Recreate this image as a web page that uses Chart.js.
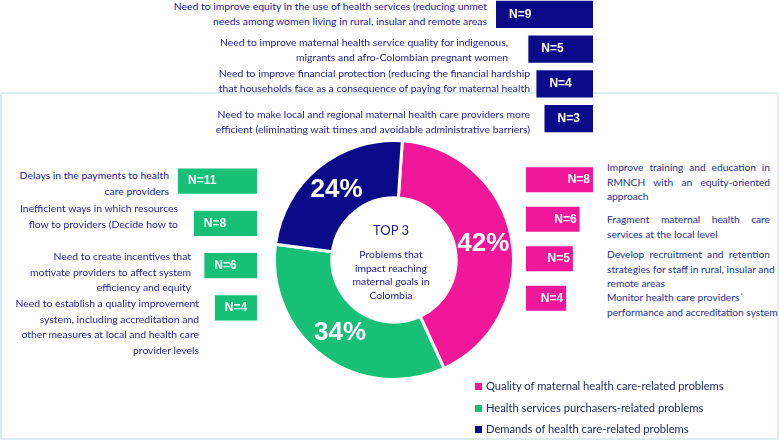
<!DOCTYPE html>
<html lang="en">
<head>
<meta charset="utf-8">
<title>Top 3 problems that impact reaching maternal goals in Colombia</title>
<script src="https://cdn.jsdelivr.net/npm/chart.js@4.4.1/dist/chart.umd.min.js"></script>
<style>
  html, body { margin: 0; padding: 0; }
  body {
    position: relative;
    width: 779px;
    height: 441px;
    overflow: hidden;
    background: #fff;
    font-family: Lato, "Open Sans", sans-serif;
  }
  .frame {
    position: absolute;
    left: 0;
    top: 92px;
    width: 775px;
    height: 344px;
    border: 2px solid #dcedef;
    border-radius: 3px;
  }
  .box { position: absolute; }
  .box canvas { display: block; }
  .block { position: absolute; white-space: nowrap; font-size: 10.4px; color: #2121a0; }
  .block.right { text-align: right; }
  .block.quality { color: #23309a; font-size: 10.2px; }
  .block .just { width: 163px; text-align: justify; text-align-last: justify; }
  .center-text {
    position: absolute;
    left: 331px;
    width: 120px;
    text-align: center;
    color: #1b1b92;
  }
  .legend { position: absolute; left: 475px; top: 375px; font-size: 11.2px; color: #1e2b66; }
  .legend div { height: 21.5px; line-height: 21.5px; white-space: nowrap; }
  .legend span { display: inline-block; width: 7px; height: 7px; margin-right: 4px; vertical-align: 0; }
</style>
</head>
<body>
<div class="frame"></div>

<div class="box" style="left:273px; top:139px;"><canvas id="shareChart" width="242" height="242"></canvas></div>
<div class="box" style="left:496px; top:-3px;"><canvas id="demandChart" width="97" height="139"></canvas></div>
<div class="box" style="left:178px; top:160px;"><canvas id="purchaserChart" width="79" height="169"></canvas></div>
<div class="box" style="left:526px; top:160px;"><canvas id="qualityChart" width="67" height="158"></canvas></div>

<div class="center-text" style="top:222px; font-size:13px; line-height:16px;">TOP 3</div>
<div class="center-text" id="centerNote" style="top:248px; font-size:10.4px; line-height:13.7px;"></div>

<div class="legend" id="legend"></div>

<script>
const shareLabels = [
  "Quality of maternal health care-related problems",
  "Health services purchasers-related problems",
  "Demands of health care-related problems"
];
const shareValues = [42, 34, 24];
const shareColors = ["#f0179b", "#17c076", "#0b0b8a"];

const centerLines = ["Problems that", "impact reaching", "maternal goals in", "Colombia"];

const demandItems = [
  "Need to improve equity in the use of health services (reducing unmet\nneeds among women living in rural, insular and remote areas",
  "Need to improve maternal health service quality for indigenous,\nmigrants and afro-Colombian pregnant women",
  "Need to improve financial protection (reducing the financial hardship\nthat households face as a consequence of paying for maternal health",
  "Need to make local and regional maternal health care providers more\nefficient (eliminating wait times and avoidable administrative barriers)"
];
const demandCounts = [9, 5, 4, 3];

const purchaserItems = [
  "Delays in the payments to health\ncare providers",
  "Inefficient ways in which resources\nflow to providers (Decide how to",
  "Need to create incentives that\nmotivate providers to affect system\nefficiency and equity",
  "Need to establish a quality improvement\nsystem, including accreditation and\nother measures at local and health care\nprovider levels"
];
const purchaserCounts = [11, 8, 6, 4];

const qualityItems = [
  "Improve training and education in\nRMNCH with an equity-oriented\napproach",
  "Fragment maternal health care\nservices at the local level",
  "Develop recruitment and retention\nstrategies for staff in rural, insular and\nremote areas",
  "Monitor health care providers´\nperformance and accreditation system"
];
const qualityCounts = [8, 6, 5, 4];

document.addEventListener("DOMContentLoaded", () => {
  const countFont = "bold 12px 'Liberation Sans', Arial, sans-serif";

  // "N=x" text inside each bar
  const countLabels = {
    id: "countLabels",
    afterDatasetsDraw(chart, args, opts) {
      const ctx = chart.ctx;
      const meta = chart.getDatasetMeta(0);
      const values = chart.data.datasets[0].data;

      ctx.save();
      ctx.font = countFont;
      ctx.fillStyle = "#fff";
      ctx.textBaseline = "middle";

      meta.data.forEach((bar, i) => {
        const p = bar.getProps(["x", "y", "base"], true);
        const left = Math.min(p.x, p.base);
        const right = Math.max(p.x, p.base);
        const text = "N=" + values[i];

        if (opts.align === "end") {
          ctx.textAlign = "right";
          ctx.fillText(text, right - 3, p.y);
        } else {
          ctx.textAlign = "left";
          ctx.fillText(text, left + opts.inset, p.y);
        }
      });

      ctx.restore();
    }
  };

  const pctLabels = {
    id: "pctLabels",
    afterDatasetsDraw(chart) {
      const ctx = chart.ctx;
      const meta = chart.getDatasetMeta(0);

      ctx.save();
      ctx.font = "bold 26px 'Liberation Sans', Arial, sans-serif";
      ctx.fillStyle = "#fff";
      ctx.textAlign = "center";
      ctx.textBaseline = "middle";
      meta.data.forEach((arc, i) => {
        const p = arc.tooltipPosition();
        ctx.fillText(shareValues[i] + "%", p.x, p.y);
      });
      ctx.restore();
    }
  };

  new Chart(document.getElementById("shareChart"), {
    type: "doughnut",
    data: {
      labels: shareLabels,
      datasets: [{
        data: shareValues,
        backgroundColor: shareColors,
        borderColor: "#fff",
        borderWidth: 3
      }]
    },
    options: {
      responsive: false,
      animation: false,
      cutout: "52%",
      rotation: 4,
      layout: { padding: 0 },
      plugins: {
        legend: { display: false },
        tooltip: { enabled: false }
      }
    },
    plugins: [pctLabels]
  });

  function makeBars(id, counts, color, cfg) {
    return new Chart(document.getElementById(id), {
      type: "bar",
      data: {
        labels: counts.map((c, i) => "item " + (i + 1)),
        datasets: [{
          data: counts,
          backgroundColor: color,
          base: cfg.min,
          barPercentage: cfg.thickness,
          categoryPercentage: 1
        }]
      },
      options: {
        indexAxis: "y",
        responsive: false,
        animation: false,
        layout: { padding: 0 },
        plugins: {
          legend: { display: false },
          tooltip: { enabled: false },
          countLabels: { align: cfg.align, inset: cfg.inset }
        },
        scales: {
          x: { display: false, min: cfg.min, max: cfg.max, reverse: cfg.reverse },
          y: { display: false }
        }
      },
      plugins: [countLabels]
    });
  }

  makeBars("demandChart", demandCounts, shareColors[2], { min: -3, max: 9, reverse: true, thickness: 0.78, align: "start", inset: 13 });
  makeBars("purchaserChart", purchaserCounts, shareColors[1], { min: -4, max: 11, reverse: true, thickness: 0.6, align: "start", inset: 10 });
  makeBars("qualityChart", qualityCounts, shareColors[0], { min: -2, max: 8, reverse: false, thickness: 0.63, align: "end", inset: 0 });

  // text blocks next to the bars
  function addBlock(text, cls, pos, lineHeight, justify) {
    const div = document.createElement("div");
    div.className = "block " + cls;
    div.style.top = pos.top + "px";
    div.style.lineHeight = lineHeight + "px";
    if (pos.right !== undefined) {
      div.style.right = (779 - pos.right) + "px";
    } else {
      div.style.left = pos.left + "px";
    }

    const lines = text.split("\n");
    lines.forEach((line, i) => {
      const row = document.createElement("div");
      row.textContent = line;
      if (justify && i < lines.length - 1) {
        row.className = "just";
      }
      div.appendChild(row);
    });
    document.body.appendChild(div);
  }

  const demandPos = [{ right: 487, top: -1 }, { right: 508, top: 35 }, { right: 530, top: 66 }, { right: 530, top: 107 }];
  const purchaserPos = [{ right: 169, top: 168 }, { right: 178, top: 201 }, { right: 191, top: 249 }, { right: 199, top: 296 }];
  const qualityPos = [{ left: 607, top: 160 }, { left: 607, top: 212 }, { left: 607, top: 247 }, { left: 607, top: 290 }];

  demandItems.forEach((t, i) => addBlock(t, "right", demandPos[i], 14.5, false));
  purchaserItems.forEach((t, i) => addBlock(t, "right", purchaserPos[i], 15.5, false));
  qualityItems.forEach((t, i) => addBlock(t, "quality", qualityPos[i], 14.5, i < 3));

  document.getElementById("centerNote").innerHTML = centerLines.join("<br>");

  const legend = document.getElementById("legend");
  shareLabels.forEach((label, i) => {
    const row = document.createElement("div");
    const swatch = document.createElement("span");
    swatch.style.background = shareColors[i];
    row.appendChild(swatch);
    row.appendChild(document.createTextNode(label));
    legend.appendChild(row);
  });
});
</script>
</body>
</html>
